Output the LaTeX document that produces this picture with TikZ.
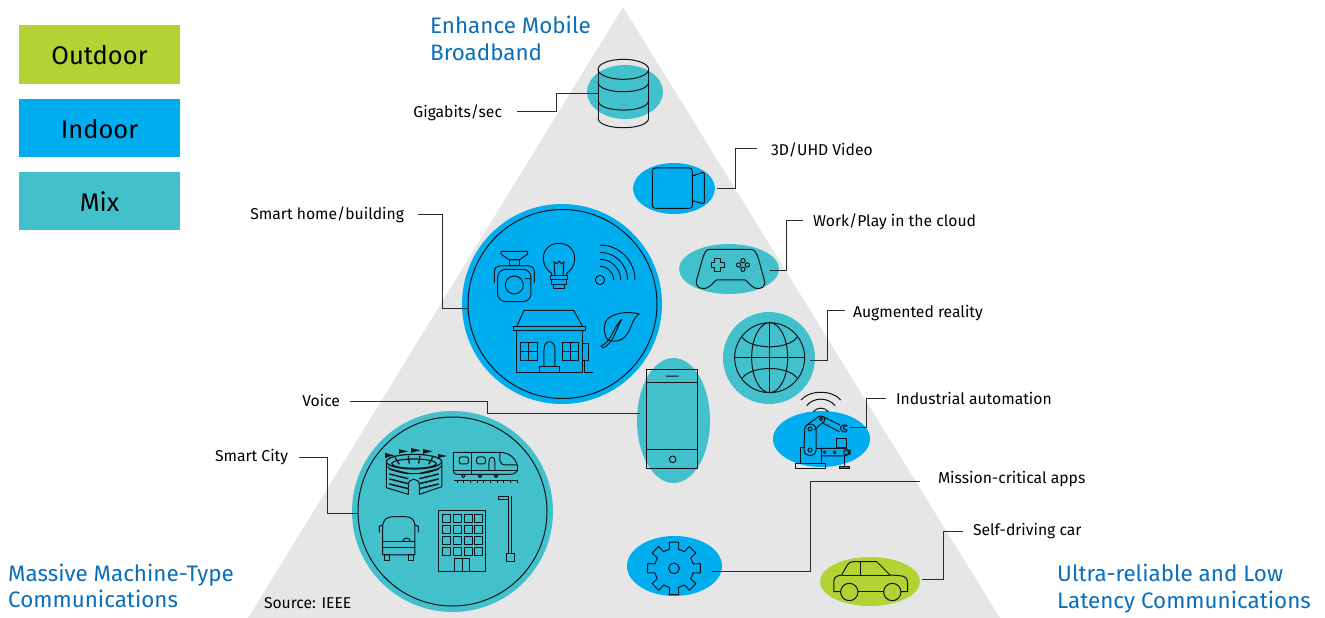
\documentclass[tikz,border=0pt]{standalone}
\usepackage{fontspec}
\setmainfont{Fira Sans}
\usetikzlibrary{shapes.geometric}
\definecolor{OutdoorGreen}{RGB}{179,211,53}
\definecolor{IndoorBlue}{RGB}{0,174,239}
\definecolor{MixTeal}{RGB}{66,193,204}
\definecolor{PyramidGray}{RGB}{230,230,230}
\definecolor{TitleBlue}{RGB}{10,110,185}
\definecolor{IconInk}{RGB}{15,20,25}
\tikzset{
  zm/.style args={#1/#2}{shift={(#1,#2)},x=0.3333pt,y=-0.3333pt},
  icon/.style={draw=IconInk,line width=1pt,line join=round},
  wire/.style={draw=IconInk!90,line width=1pt},
  blob/.style={ellipse,fill=#1,inner sep=0pt},
  key/.style={fill=#1,minimum width=161pt,minimum height=58pt,inner sep=0pt,text height=20pt,text depth=0pt,font=\fontsize{25.5}{30}\selectfont},
  lbl/.style={inner ysep=0pt,inner xsep=0pt,outer ysep=0pt,outer xsep=#1,text height=11pt,text depth=3pt,font=\fontsize{15.7}{18}\selectfont},
  head/.style={align=left,anchor=west,inner sep=0pt,text=TitleBlue,font=\fontsize{22.4}{26.5}\selectfont}
}
\begin{document}
\begin{tikzpicture}[x=1pt,y=-1pt]
\useasboundingbox (0,0) rectangle (1325,618);
\fill[PyramidGray] (623,7) -- (1000,618) -- (248,618) -- cycle;

% legend
\node[key=OutdoorGreen](keyOutdoor) at (99.5,54.5) {Outdoor};
\node[key=IndoorBlue](keyIndoor) at (99.5,128) {Indoor};
\node[key=MixTeal](keyMix) at (99.5,201) {Mix};

% corner titles
\node[head](headBroadband) at (430,38.5) {Enhance Mobile\\Broadband};
\node[head](headMachine) at (8,586) {Massive Machine-Type\\Communications};
\node[head](headLatency) at (1057,588.5) {Ultra-reliable and Low\\Latency Communications};
\node[lbl=0pt,anchor=west](source) at (264,604) {Source: IEEE};

% coloured backgrounds
\node[blob=IndoorBlue,minimum width=200pt,minimum height=200pt](homeBlob) at (562,304) {};
\node[blob=MixTeal,minimum width=201pt,minimum height=201pt](cityBlob) at (452.5,511.5) {};
\node[blob=MixTeal,minimum width=76pt,minimum height=54pt](dataBlob) at (625,92) {};
\node[blob=IndoorBlue,minimum width=82pt,minimum height=51pt](videoBlob) at (674,188.5) {};
\node[blob=MixTeal,minimum width=100pt,minimum height=50pt](gameBlob) at (729,269) {};
\node[blob=MixTeal,minimum width=92pt,minimum height=92pt](globeBlob) at (769,358) {};
\node[blob=IndoorBlue,minimum width=97pt,minimum height=56pt](robotBlob) at (821.5,439) {};
\node[blob=IndoorBlue,minimum width=95pt,minimum height=60pt](gearBlob) at (674.5,566) {};
\node[blob=OutdoorGreen,minimum width=100pt,minimum height=49pt](carBlob) at (870,581.5) {};
\node[blob=MixTeal,minimum width=73pt,minimum height=125pt](phoneBlob) at (673.5,420.5) {};

% rings
\node[ellipse,icon,inner sep=0pt,minimum width=189pt,minimum height=189pt](homeRing) at (562.5,304) {};
\node[ellipse,icon,inner sep=0pt,minimum width=189pt,minimum height=189pt](cityRing) at (452.5,511.5) {};

% free ends of the connectors
\coordinate (dataEnd) at (598,93);
\coordinate (videoEnd) at (717,188);
\coordinate (gameEnd) at (770,270);
\coordinate (globeEnd) at (810,360);
\coordinate (robotEnd) at (850,427);
\coordinate (gearEnd) at (712,571.5);
\coordinate (carEnd) at (922,579);
\coordinate (phoneEnd) at (640,413);
\coordinate (homeEnd) at (468,308);
\coordinate (cityEnd) at (358,513);

% labels
\node[lbl=15pt,anchor=east,text height=15pt](lblData) at (517,111) {Gigabits/sec};
\node[lbl=14pt,anchor=east,text height=13pt](lblHome) at (418,214) {Smart home/building};
\node[lbl=10pt,anchor=east,text height=13pt](lblVoice) at (350,401) {Voice};
\node[lbl=11pt,anchor=east](lblCity) at (299,457) {Smart City};
\node[lbl=14pt,anchor=west,text height=17pt](lblVideo) at (757,148) {3D/UHD Video};
\node[lbl=10pt,anchor=west,text height=15pt](lblGame) at (803,220) {Work/Play in the cloud};
\node[lbl=8pt,anchor=west,text height=17pt](lblGlobe) at (845,310) {Augmented reality};
\node[lbl=10pt,anchor=west,text height=15pt](lblRobot) at (886,398) {Industrial automation};
\node[lbl=18pt,anchor=west,text height=7pt](lblGear) at (920,481) {Mission-critical apps};
\node[lbl=10pt,anchor=west](lblCar) at (963,531) {Self-driving car};

% connectors
\foreach \a/\b/\x in {lblData.east/dataEnd/556,lblHome.east/homeEnd/442,lblVoice.east/phoneEnd/487,lblCity.east/cityEnd/327,
  lblVideo.west/videoEnd/735,lblGame.west/gameEnd/786.5,lblGlobe.west/globeEnd/827,lblRobot.west/robotEnd/866.5,lblGear.west/gearEnd/810,lblCar.west/carEnd/943} {
   \draw[wire] (\a) -| (\x,0 |- \b) -- (\b);
}

% smart home icons
\begin{scope}[zm={440/190}]
  \draw[icon] (183,184) -- (263,184) -- (263,192) -- (238,210) -- (208,210) -- (183,192) -- cycle;
  \draw[icon] (208,210) rectangle (238,228);
  \draw[icon,rounded corners=8pt] (173,238) rectangle (273,335);
  \draw[icon,rounded corners=5pt] (163,278) -- (163,228) -- (283,228) -- (283,278);
  \draw[icon] (223,285) circle (27) (255,266) -- (272,266);
  \draw[icon] (335,258) -- (335,250) .. controls (320,240) and (310,225) .. (310,205) .. controls (310,178) and (330,160) .. (357,160) .. controls (384,160) and (404,178) .. (404,205) .. controls (404,225) and (395,240) .. (380,250) -- (380,258);
  \draw[icon] (333,258) rectangle (383,270) (336,270) rectangle (380,284) (341,284) rectangle (374,296);
  \draw[icon] (345,258) -- (342,215) -- (350,222) -- (357,213) -- (365,222) -- (372,215) -- (369,258);
  \draw[icon] (480,270) circle (14);
  \foreach \rad in {41,62,83,105} {
     \draw[icon] (480,270-\rad) .. controls (480+.55*\rad,270-\rad) and (480+\rad,270-.55*\rad) .. (480+\rad,270);
  }
  \draw[icon] (231,408) -- (252,361) -- (401,361) -- (427,408);
  \draw[icon] (221,409) rectangle (437,421) (230,421) rectangle (428,547);
  \draw[icon] (243,458) rectangle (292,513) (267,458) -- (267,513) (243,485) -- (292,485);
  \draw[icon] (368,458) rectangle (416,513) (392,458) -- (392,513) (368,485) -- (416,485);
  \draw[icon] (312,531) -- (312,478) .. controls (312,448) and (345,448) .. (345,478) -- (345,531);
  \draw[icon] (298,531) rectangle (358,547);
  \draw[icon] (428,461) rectangle (445,511) (433,511) -- (433,547) -- (458,547);
  \draw[icon] (598,372) .. controls (560,362) and (510,370) .. (497,395) .. controls (488,415) and (495,440) .. (503,450) .. controls (525,458) and (545,452) .. (555,440) .. controls (575,420) and (575,385) .. (598,372) -- cycle;
  \draw[icon] (483,468) .. controls (515,455) and (515,420) .. (545,388) .. controls (525,425) and (520,460) .. (489,474) -- cycle;
\end{scope}

% smart city icons
\begin{scope}[zm={340/405}]
  \draw[icon,line width=1.2pt] (222,170) ellipse (83 and 22) (222,176) ellipse (67 and 14);
  \draw[icon] (139,170) -- (139,248) -- (205,268) -- (205,240) .. controls (205,217) and (238,217) .. (238,240) -- (238,268) -- (306,245) -- (306,170);
  \draw[icon] (139,182) .. controls (165,214) and (280,214) .. (306,182);
  \foreach \y in {192,207,222,237} {
     \draw[icon,line width=1.5pt] (148,\y) -- (205,\y+14) (296,\y) -- (238,\y+14);
  }
  \foreach \x/\y in {138/145,178/133,216/130,252/133,295/147} {
     \fill[IconInk] (\x,\y) -- (\x+26,\y+6) -- (\x,\y+12) -- cycle;
     \draw[icon] (\x,\y) -- (\x,\y+14);
  }
  \draw[icon,line width=1.3pt] (165,157) -- (178,178) (205,152) -- (208,176) (240,152) -- (236,176) (278,157) -- (266,178);
  \draw[icon] (340,142) -- (480,142) .. controls (510,142) and (533,165) .. (533,190) .. controls (533,200) and (525,208) .. (510,208) -- (350,208) .. controls (344,208) and (340,204) .. (340,198) -- cycle;
  \draw[icon] (396,142) -- (396,208) (340,197) -- (533,197);
  \draw[icon,rounded corners=2pt] (358,156) rectangle (385,177) (410,156) rectangle (436,177);
  \draw[icon] (447,198) -- (447,170) .. controls (447,152) and (465,152) .. (465,170) -- (465,198);
  \draw[icon] (480,142) -- (480,168) .. controls (480,175) and (488,180) .. (495,180) -- (530,180);
  \draw[icon] (370,213) circle (5) (420,213) circle (5) (468,213) circle (5);
  \draw[icon] (342,228) -- (533,228);
  \foreach \x in {352,372,...,532} {
     \draw[icon] (\x,226) -- (\x,234);
  }
  \draw[icon] (128,450) -- (128,365) .. controls (128,345) and (140,335) .. (160,335) -- (195,335) .. controls (215,335) and (225,345) .. (225,365) -- (225,450) -- cycle;
  \draw[icon] (118,382) -- (118,364) -- (128,360) (235,382) -- (235,364) -- (225,360);
  \draw[icon] (128,410) -- (225,410) (128,428) -- (225,428);
  \draw[icon] (188,410) .. controls (190,396) and (210,396) .. (212,410);
  \draw[icon] (133,450) rectangle (148,467) (205,450) rectangle (220,467);
  \draw[icon] (297,316) rectangle (438,499);
  \foreach \x in {307,340,373,405} {
     \foreach \y in {328,362,395,429} {
        \draw[icon] (\x,\y) rectangle (\x+24,\y+24);
     }
  }
  \draw[icon] (345,461) rectangle (390,499) (367,461) -- (367,499);
  \draw[icon] (507,277) -- (507,445) (514,272) -- (514,445);
  \draw[icon] (475,275) rectangle (507,284);
  \draw[icon] (500,445) rectangle (524,469);
\end{scope}

% data, video, controller
\begin{scope}[zm={580/50}]
  \draw[icon] (130,58) ellipse (76 and 30);
  \draw[icon] (54,58) -- (54,204) (206,58) -- (206,204);
  \foreach \y in {96,151,204} {
     \draw[icon] (54,\y) .. controls (54,\y+39) and (206,\y+39) .. (206,\y);
  }
  \draw[icon,rounded corners=3pt] (217,354) rectangle (337,475);
  \draw[icon,rounded corners=2pt] (337,378) -- (373,366) -- (373,462) -- (337,452);
  \draw[icon] (388,598) -- (510,598) .. controls (525,598) and (530,610) .. (535,625) -- (553,690) .. controls (558,710) and (545,720) .. (525,714) .. controls (510,708) and (505,695) .. (495,690) -- (410,690) .. controls (400,695) and (395,708) .. (380,714) .. controls (360,720) and (345,710) .. (350,690) -- (368,625) .. controls (373,610) and (378,598) .. (388,598) -- cycle;
  \draw[icon] (405,627) -- (422,627) -- (422,637) -- (434,637) -- (434,654) -- (422,654) -- (422,664) -- (405,664) -- (405,654) -- (394,654) -- (394,637) -- (405,637) -- cycle;
  \draw[icon] (489,632) circle (6.5) (489,658) circle (6.5) (476,645) circle (6.5) (502,645) circle (6.5);
\end{scope}

% globe
\begin{scope}[zm={710/300}]
  \draw[icon] (179,173) circle (105) (179,173) ellipse (54 and 105);
  \draw[icon] (179,68) -- (179,278) (74,173) -- (284,173);
  \draw[icon] (97,112) .. controls (125,150) and (233,150) .. (261,112);
  \draw[icon] (97,234) .. controls (125,196) and (233,196) .. (261,234);
\end{scope}

% robot
\begin{scope}[zm={790/385}]
  \draw[icon] (33,45) .. controls (58,14) and (127,14) .. (152,45);
  \draw[icon] (50,62) .. controls (70,36) and (115,36) .. (135,62);
  \draw[icon] (70,80) .. controls (80,66) and (105,66) .. (115,80);
  \draw[icon] (44,132) .. controls (46,112) and (76,112) .. (78,132) -- (78,195) .. controls (78,218) and (42,218) .. (42,195) -- cycle;
  \draw[icon] (60,132) circle (6) (60,195) circle (6);
  \draw[icon] (48,122) -- (85,95) .. controls (95,88) and (110,100) .. (103,108) -- (72,135);
  \draw[icon] (93,102) circle (5);
  \draw[icon] (99,95) -- (150,120) (96,113) -- (148,140);
  \draw[icon] (172,122) .. controls (150,112) and (140,140) .. (168,141) -- (171,135) -- (160,131) -- (162,124) -- cycle;
  \draw[icon] (44,188) -- (30,188) -- (30,237) (78,190) -- (93,190) -- (93,237);
  \draw[icon] (15,237) rectangle (105,250);
  \draw[icon,rounded corners=6pt] (90,190) -- (180,190) -- (180,213) -- (95,213);
  \draw[icon] (104,202) circle (4) (134,202) circle (4) (168,202) circle (7);
  \draw[icon] (140,160) rectangle (168,188);
  \draw[icon] (162,213) -- (162,245);
  \draw[icon,fill=IconInk!65] (148,245) rectangle (178,252);
\end{scope}

% gear and car
\begin{scope}[zm={610/520}]
  \draw[icon] (192,145) circle (16);
  \begin{scope}[shift={(192,145)}]
    \draw[icon] (-13:59) foreach \a in {0,45,...,315} { -- (\a-10:80) -- (\a+10:80) -- (\a+13:59) -- (\a+32:59) } -- cycle;
  \end{scope}
  \draw[icon] (692,215) -- (672,215) -- (672,182) .. controls (672,172) and (680,167) .. (695,165) -- (712,135) .. controls (716,128) and (722,125) .. (730,125) -- (800,125) -- (840,165) -- (870,167) .. controls (885,168) and (893,175) .. (893,190) -- (893,215) -- (873,215);
  \draw[icon] (744,215) -- (821,215) (751,125) -- (751,165) (695,165) -- (840,165);
  \draw[icon] (718,216) circle (26) (847,216) circle (26);
\end{scope}

% phone
\begin{scope}[zm={630/350}]
  \draw[icon] (49,58) rectangle (203,357) (49,97) -- (203,97) (49,298) -- (203,298);
  \draw[icon] (108,78) -- (146,78) (128,328) circle (10);
\end{scope}
\end{tikzpicture}
\end{document}
